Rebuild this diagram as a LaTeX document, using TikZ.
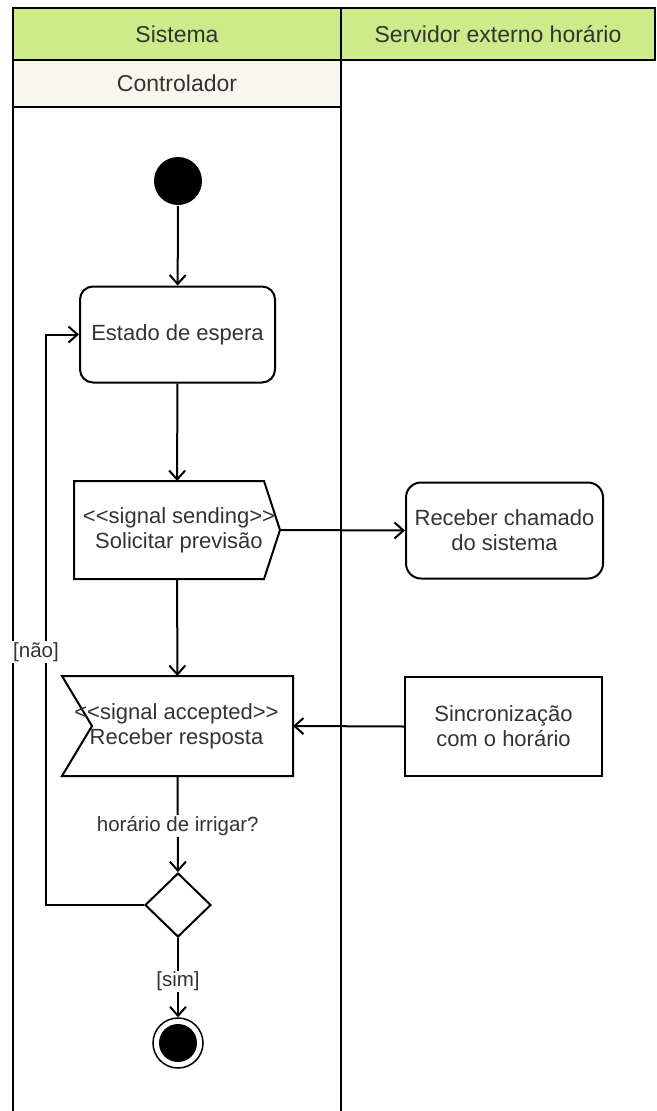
\documentclass[tikz,border=0pt]{standalone}
\usepackage{fontspec}
\setmainfont{Liberation Sans}
\usetikzlibrary{arrows.meta,shapes.geometric,calc}
\definecolor{lanegreen}{HTML}{CDEB8B}
\definecolor{lanebeige}{HTML}{F9F7ED}
\definecolor{ink}{HTML}{333333}
% angle brackets kept apart so they are not joined into guillemets
\newcommand{\stlt}{\textless\kern0pt\textless}
\newcommand{\stgt}{\textgreater\kern0pt\textgreater}

\begin{document}
\begin{tikzpicture}[x=1pt,y=-1pt,line width=2pt,
  every node/.style={text=ink,font=\fontsize{22}{25}\selectfont,align=center,inner sep=0pt},
  lanehead/.style={draw,fill=lanegreen,minimum height=52pt,font=\fontsize{23}{26}\selectfont},
  flow/.style={draw,-{Straight Barb[length=9pt,width=16pt,line width=2pt]}},
  edgelabel/.style={fill=white,inner sep=1pt,font=\fontsize{20.5}{24}\selectfont},
  action/.style={draw,rounded corners=13pt,minimum width=195pt,minimum height=96pt},
  plainbox/.style={draw,minimum width=197pt,minimum height=99pt},
  textbox/.style={minimum height=96pt}
]
\useasboundingbox (0,0) rectangle (656,1111);
\clip (0,0) rectangle (656,1111);

% swimlanes
\draw (13,107) rectangle (341,1130);
\node[lanehead,minimum width=328pt] (lsys) at (177,34) {Sistema};
\node[lanehead,minimum width=314pt] (lsrv) at (498,34) {Servidor externo horário};
\node[draw,fill=lanebeige,minimum width=328pt,minimum height=47pt,font=\fontsize{23}{26}\selectfont] (lctl) at (177,83.5) {Controlador};

% initial node
\node[circle,fill=black,minimum size=48pt] (start) at (178,181) {};

% activity states
\node[action] (est) at (177.5,334.5) {Estado de espera};
\node[action,minimum width=197pt,rounded corners=15pt] (rc) at (504.5,530.5) {Receber chamado\\do sistema};
\node[plainbox] (sy) at (503.5,726.5) {Sincronização\\com o horário};

% signal sending (pointed on the right)
\node[textbox,minimum width=204pt] (ss) at (177,530) {};
\draw[line join=miter] (ss.north west) -- ([xshift=-16pt]ss.north east) -- (ss.east)
  -- ([xshift=-16pt]ss.south east) -- (ss.south west) -- cycle;
\node (sstext) at (179,530) {\stlt signal sending\stgt\\Solicitar previsão};
\coordinate (sstip) at (ss.east);

% signal accepted (notched on the left)
\node[textbox,minimum width=229pt,minimum height=98pt] (sa) at (177.5,726) {};
\draw[line join=miter] (sa.north west) -- (sa.north east) -- (sa.south east)
  -- (sa.south west) -- ([xshift=30pt]sa.west) -- cycle;
\node (satext) at (176.5,726) {\stlt signal accepted\stgt\\Receber resposta};

% decision and final node
\node[diamond,draw,minimum width=66pt,minimum height=64pt] (dia) at (178,905) {};
\node[circle,draw,line width=1.5pt,minimum size=50pt] (fin) at (178,1043) {};
\fill (fin.center) circle[radius=19pt];

% control flow
\draw[flow] (start) -- (est);
\draw[flow] (est) -- (ss);
\draw[flow] (sstip) -- (rc.west);
\draw[flow] (ss) -- (sa);
\draw[flow] (sy.west) -- (sa.east);
\draw[flow] (sa) -- node[edgelabel,pos=0.52] (lq) {horário de irrigar?} (dia);
\draw[flow] (dia) -- node[edgelabel,pos=0.55] (lsim) {[sim]} (fin);
\draw[flow] (dia.west) -| ($(est.west)+(-33pt,0)$) -- (est.west);
\node[edgelabel] (lnao) at (36,652) {[não]};
\end{tikzpicture}
\end{document}
